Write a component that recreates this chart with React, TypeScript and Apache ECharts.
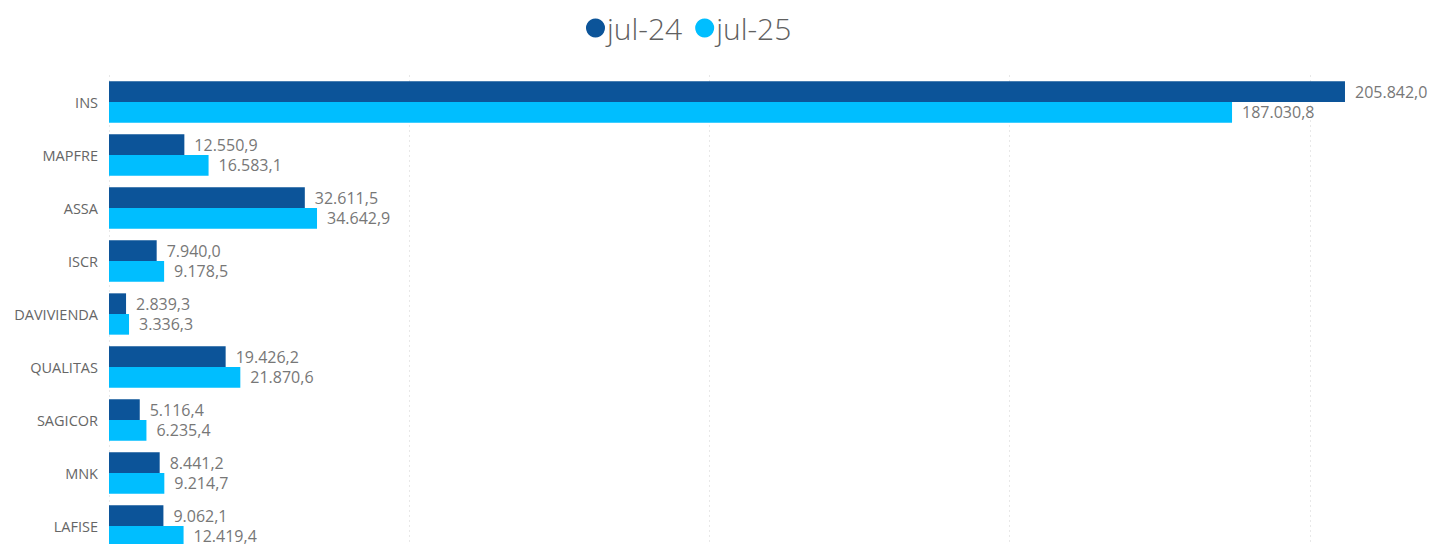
import React, { useEffect, useRef } from "react";
import * as echarts from "echarts";

const categories = ["INS", "MAPFRE", "ASSA", "ISCR", "DAVIVIENDA", "QUALITAS", "SAGICOR", "MNK", "LAFISE"];
const jul24 = [205842.0, 12550.9, 32611.5, 7940.0, 2839.3, 19426.2, 5116.4, 8441.2, 9062.1];
const jul25 = [187030.8, 16583.1, 34642.9, 9178.5, 3336.3, 21870.6, 6235.4, 9214.7, 12419.4];
const seriesNames = ["jul-24", "jul-25"];
const colors = ["#0C5499", "#00BEFF"];

function fmt(v: number): string {
  const s = v.toFixed(1);
  const [i, d] = s.split(".");
  return i.replace(/\B(?=(\d{3})+(?!\d))/g, ".") + "," + d;
}

export default function App() {
  const ref = useRef<HTMLDivElement>(null);
  useEffect(() => {
    document.body.style.margin = "0";
    const chart = echarts.init(ref.current!, null, { renderer: "svg" });
    const labelStyle = {
      show: true,
      position: "right" as const,
      distance: 10,
      color: "#777777",
      fontSize: 16,
      fontFamily: "Open Sans",
      formatter: (p: any) => fmt(p.value),
    };
    chart.setOption({
      animation: false,
      legend: {
        data: seriesNames,
        left: 581,
        top: 8,
        icon: "circle",
        itemWidth: 19,
        itemHeight: 19,
        itemGap: 13,
        textStyle: { fontSize: 30, color: "#606060", fontFamily: "Open Sans", fontWeight: 300, padding: [0, 0, 0, -3] },
      },
      grid: { left: 109, top: 75.5, width: 1323, height: 477, containLabel: false },
      xAxis: {
        type: "value",
        min: 0,
        max: 220000,
        interval: 50000,
        axisLabel: { show: false },
        axisLine: { show: false },
        axisTick: { show: false },
        splitLine: { show: true, lineStyle: { color: "#D0D0D0", type: [1, 4], width: 1 } },
      },
      yAxis: {
        type: "category",
        data: categories,
        inverse: true,
        axisLine: { show: false },
        axisTick: { show: false },
        axisLabel: { color: "#666666", fontSize: 14.5, fontFamily: "Open Sans", margin: 11 },
      },
      series: [
        {
          name: seriesNames[0],
          type: "bar",
          data: jul24,
          itemStyle: { color: colors[0] },
          barGap: "0%",
          barCategoryGap: "22%",
          label: labelStyle,
        },
        {
          name: seriesNames[1],
          type: "bar",
          data: jul25,
          itemStyle: { color: colors[1] },
          barGap: "0%",
          barCategoryGap: "22%",
          label: labelStyle,
        },
      ],
    });
    return () => chart.dispose();
  }, []);
  return (
    <div style={{ width: 1430, height: 544, overflow: "hidden" }}>
      <div ref={ref} style={{ width: 1430, height: 570 }} />
    </div>
  );
}
